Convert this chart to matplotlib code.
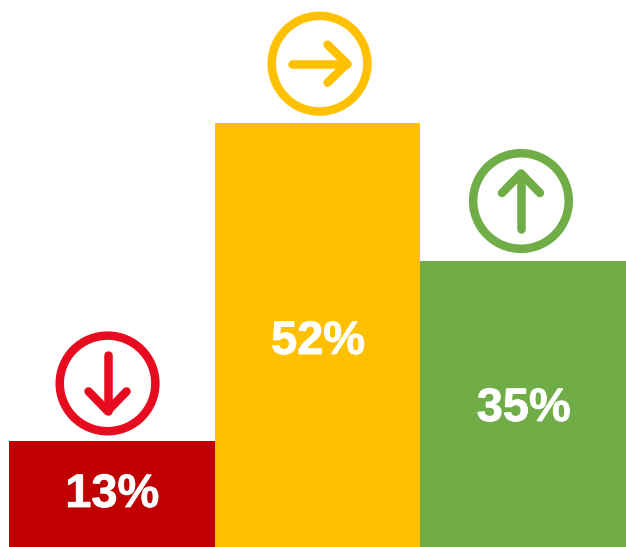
import matplotlib
matplotlib.use("Agg")
import matplotlib.pyplot as plt
import matplotlib.patheffects as pe
from matplotlib.patches import Circle

plt.rcParams['font.family'] = ['Liberation Sans', 'DejaVu Sans']

categories = ['down', 'flat', 'up']
values = [13, 52, 35]
labels = ['13%', '52%', '35%']
bar_colors = ['#C00000', '#FFC000', '#70AD47']
icon_colors = ['#E60B1E', '#FFC000', '#70AD47']
arrows = [(0, -1), (1, 0), (0, 1)]

W, H = 626, 547
fig = plt.figure(figsize=(W / 100, H / 100), dpi=100)
ax = fig.add_axes([0, 0, 1, 1])
ax.set_xlim(0, W)
ax.set_ylim(0, H)
ax.axis('off')

# pixels per percent, bars touch each other
scale = 8.16
bar_w = 205.7
x0 = 9
stroke = 8.5 * 72 / 100

# the icons and labels are not quite centred on the bars in the original
icon_dx = [-4.3, 2, -2.3]
icon_dy = [57.5, 59, 60.4]
label_dx = [0.5, 0.5, 0.5]
label_base = [40, 193, 126]

for i, v in enumerate(values):
    left = x0 + i * bar_w
    top = v * scale
    ax.bar(left, top, width=bar_w, align='edge', color=bar_colors[i], linewidth=0)
    cx = left + bar_w / 2
    t = ax.text(cx + label_dx[i], label_base[i], labels[i], color='white', fontsize=33.8,
                fontweight='bold', ha='center', va='baseline')
    t.set_path_effects([pe.withStroke(linewidth=0.6, foreground='white')])

    # icon above the bar
    ix = cx + icon_dx[i]
    iy = top + icon_dy[i]
    ax.add_patch(Circle((ix, iy), 47.8, fill=False, ec=icon_colors[i], lw=stroke))
    dx, dy = arrows[i]
    tipx, tipy = ix + dx * 27.5, iy + dy * 27.5
    # shaft, then the two arms of the head
    ax.plot([ix - dx * 28, tipx], [iy - dy * 28, tipy], color=icon_colors[i], lw=stroke,
            solid_capstyle='round')
    ax.plot([tipx - dx * 19.5 - dy * 19, tipx, tipx - dx * 19.5 + dy * 19],
            [tipy - dy * 19.5 - dx * 19, tipy, tipy - dy * 19.5 + dx * 19],
            color=icon_colors[i], lw=stroke, solid_capstyle='round', solid_joinstyle='round')

fig.savefig('out.png', dpi=100)
